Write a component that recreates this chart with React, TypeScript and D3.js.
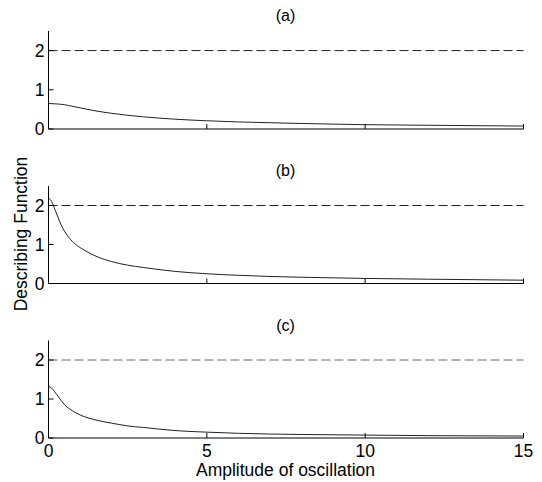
import React from "react";
import * as d3 from "d3";

const titles = ["(a)", "(b)", "(c)"];
const xTicks = [0, 5, 10, 15];
const yTicks = [0, 1, 2];
const refLevel = 2;

const seriesAX = [0, 0.25, 0.5, 0.75, 1, 1.5, 2, 2.5, 3, 4, 5, 6, 7, 8, 10, 12, 15];
const seriesAY = [0.65, 0.64, 0.62, 0.58, 0.54, 0.46, 0.4, 0.35, 0.31, 0.25, 0.21, 0.18, 0.16, 0.14, 0.11, 0.095, 0.075];

const seriesBX = [0, 0.1, 0.2, 0.3, 0.4, 0.5, 0.75, 1, 1.25, 1.5, 2, 2.5, 3, 4, 5, 6, 7, 8, 10, 12, 15];
const seriesBY = [2.2, 2.1, 1.9, 1.7, 1.5, 1.35, 1.08, 0.92, 0.8, 0.7, 0.56, 0.47, 0.41, 0.31, 0.25, 0.21, 0.18, 0.16, 0.13, 0.11, 0.085];

const seriesCX = [0, 0.1, 0.2, 0.3, 0.5, 0.75, 1, 1.5, 2, 2.5, 3, 4, 5, 6, 8, 10, 12, 15];
const seriesCY = [1.32, 1.28, 1.18, 1.07, 0.86, 0.7, 0.59, 0.46, 0.38, 0.31, 0.27, 0.19, 0.15, 0.12, 0.09, 0.075, 0.06, 0.05];

const panels = [
  { x: seriesAX, y: seriesAY, top: 31, bottom: 129 },
  { x: seriesBX, y: seriesBY, top: 186, bottom: 283.5 },
  { x: seriesCX, y: seriesCY, top: 340.5, bottom: 438 },
];

const FONT = "Arial, 'Liberation Sans', sans-serif";
const FS = 17.5;

export default function App() {
  const x = d3.scaleLinear().domain([0, 15]).range([48.5, 523.5]);
  return (
    <svg width={542} height={482} style={{ position: "absolute", left: 0, top: 0, background: "#fff" }} fontFamily={FONT}>
      <rect width={542} height={482} fill="#fff" />
      {panels.map((p, i) => {
        const y = d3.scaleLinear().domain([0, 2.5]).range([p.bottom, p.top]);
        const line = d3
          .line<number>()
          .x((_, k) => x(p.x[k]))
          .y((v) => y(v))
          .curve(d3.curveMonotoneX);
        return (
          <g key={i}>
            <text x={285.5} y={p.top - 10} textAnchor="middle" fontSize={16} fill="#000">
              {titles[i]}
            </text>
            <line x1={x(0)} x2={x(15)} y1={y(refLevel)} y2={y(refLevel)} stroke={i === 2 ? "#666" : "#222"} strokeWidth={1} strokeDasharray="9,4" />
            <path d={line(p.y) || ""} fill="none" stroke="#222" strokeWidth={1} />
            <line x1={x(0)} x2={x(0)} y1={y(2.5)} y2={y(0)} stroke="#000" strokeWidth={1} />
            <line x1={x(0)} x2={x(15)} y1={y(0)} y2={y(0)} stroke="#000" strokeWidth={1} />
            {xTicks.map((t) => (
              <line key={t} x1={x(t)} x2={x(t)} y1={y(0)} y2={y(0) - 5} stroke="#000" strokeWidth={1} />
            ))}
            {yTicks.map((t) => (
              <g key={t}>
                <line x1={x(0)} x2={x(0) + 5} y1={y(t)} y2={y(t)} stroke="#000" strokeWidth={1} />
                <text x={x(0) - 4} y={y(t)} dy="0.36em" textAnchor="end" fontSize={FS} fill="#000">
                  {t}
                </text>
              </g>
            ))}
            {i === 2 &&
              xTicks.map((t) => (
                <text key={t} x={x(t)} y={y(0) + 19} textAnchor="middle" fontSize={FS} fill="#000">
                  {t}
                </text>
              ))}
          </g>
        );
      })}
      <text x={285.5} y={476} textAnchor="middle" fontSize={FS} fill="#000">
        Amplitude of oscillation
      </text>
      <text transform="translate(27,234) rotate(-90)" textAnchor="middle" fontSize={FS} fill="#000">
        Describing Function
      </text>
    </svg>
  );
}
